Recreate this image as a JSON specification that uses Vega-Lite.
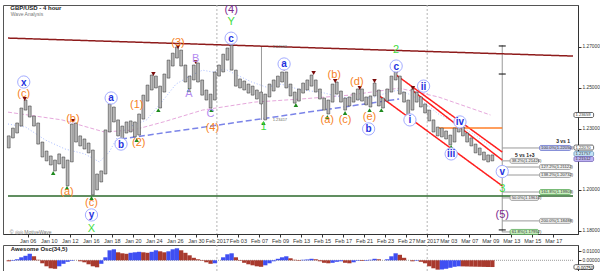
{
"$schema": "https://vega.github.io/schema/vega-lite/v6.json",
"autosize": {"type": "pad"},
"padding": {"left": 2, "top": 3, "right": 0, "bottom": 0},
"background": "white",
"config": {
  "view": {"stroke": "#555", "strokeWidth": 1},
  "font": "Liberation Sans",
  "axis": {"labelFont": "Liberation Sans", "labelFontSize": 5.5, "labelColor": "#333", "tickColor": "#333", "domainColor": "#333", "tickSize": 3, "grid": false}
},
"datasets": {
  "sep": [{"t": 18}, {"t": 38}],
  "ma": [
    {"s":"slow","t":-1.87,"p":1.2380},{"s":"slow","t":3.27,"p":1.2342},{"s":"slow","t":7.29,"p":1.2283},{"s":"slow","t":10.09,"p":1.2293},{"s":"slow","t":12.90,"p":1.2332},{"s":"slow","t":16.64,"p":1.2390},{"s":"slow","t":21.59,"p":1.2429},{"s":"slow","t":25.98,"p":1.2444},{"s":"slow","t":30.65,"p":1.2463},{"s":"slow","t":35.33,"p":1.2497},{"s":"slow","t":39.07,"p":1.2454},{"s":"slow","t":44.02,"p":1.2366},
    {"s":"fast","t":-1.87,"p":1.2322},{"s":"fast","t":-0.19,"p":1.2307},{"s":"fast","t":1.68,"p":1.2244},{"s":"fast","t":3.55,"p":1.2200},{"s":"fast","t":5.42,"p":1.2176},{"s":"fast","t":6.82,"p":1.2137},{"s":"fast","t":7.76,"p":1.2185},{"s":"fast","t":8.69,"p":1.2273},{"s":"fast","t":9.63,"p":1.2307},{"s":"fast","t":11.31,"p":1.2342},{"s":"fast","t":12.90,"p":1.2439},{"s":"fast","t":14.11,"p":1.2517},{"s":"fast","t":15.42,"p":1.2556},{"s":"fast","t":16.64,"p":1.2585},{"s":"fast","t":17.57,"p":1.2576},{"s":"fast","t":18.79,"p":1.2590},{"s":"fast","t":19.91,"p":1.2561},{"s":"fast","t":21.31,"p":1.2527},{"s":"fast","t":22.71,"p":1.2502},{"s":"fast","t":24.11,"p":1.2517},{"s":"fast","t":25.98,"p":1.2488},{"s":"fast","t":27.85,"p":1.2478},{"s":"fast","t":29.72,"p":1.2454},{"s":"fast","t":31.59,"p":1.2444},{"s":"fast","t":32.99,"p":1.2454},{"s":"fast","t":34.39,"p":1.2478},{"s":"fast","t":35.33,"p":1.2488},{"s":"fast","t":36.26,"p":1.2468},{"s":"fast","t":37.66,"p":1.2429},{"s":"fast","t":39.07,"p":1.2371},{"s":"fast","t":40.93,"p":1.2322},{"s":"fast","t":42.80,"p":1.2259},{"s":"fast","t":44.02,"p":1.2210}
  ],
  "lines": [
    {"id":"brown","g":"main","t":-1.87,"p":1.27415},{"id":"brown","g":"main","t":51.87,"p":1.26537},
    {"id":"green","g":"main","t":-1.87,"p":1.19708},{"id":"green","g":"main","t":51.87,"p":1.19708},
    {"id":"blue","g":"main","t":8.88,"p":1.22488},{"id":"blue","g":"main","t":35.33,"p":1.24439},
    {"id":"redA","g":"main","t":35.05,"p":1.2561},{"id":"redA","g":"main","t":45.14,"p":1.2185},
    {"id":"redB","g":"main","t":36.54,"p":1.2488},{"id":"redB","g":"main","t":45.14,"p":1.2146},
    {"id":"redC","g":"main","t":33.46,"p":1.2459},{"id":"redC","g":"main","t":45.14,"p":1.2020},
    {"id":"orange","g":"main","t":39.07,"p":1.23025},{"id":"orange","g":"main","t":45.14,"p":1.23025},
    {"id":"vgray","g":"fib","t":45.14,"p":1.2707},{"id":"vgray","g":"fib","t":45.14,"p":1.1794},
    {"id":"meas","g":"fib","t":22.24,"p":1.2698},{"id":"meas","g":"fib","t":22.24,"p":1.2342},
    {"id":"f1","g":"fib","t":45.14,"p":1.2205},{"id":"f1","g":"fib","t":48.69,"p":1.2205},
    {"id":"f2","g":"fib","t":45.14,"p":1.2142},{"id":"f2","g":"fib","t":45.89,"p":1.2142},
    {"id":"f3","g":"fib","t":45.14,"p":1.2112},{"id":"f3","g":"fib","t":48.69,"p":1.2112},
    {"id":"f4","g":"fib","t":45.14,"p":1.2073},{"id":"f4","g":"fib","t":48.69,"p":1.2073},
    {"id":"f5","g":"fib","t":45.14,"p":1.1990},{"id":"f5","g":"fib","t":48.69,"p":1.1990},
    {"id":"f6","g":"fib","t":45.14,"p":1.1961},{"id":"f6","g":"fib","t":45.89,"p":1.1961},
    {"id":"f7","g":"fib","t":45.14,"p":1.1849},{"id":"f7","g":"fib","t":48.69,"p":1.1849},
    {"id":"f8","g":"fib","t":45.14,"p":1.1795},{"id":"f8","g":"fib","t":45.89,"p":1.1795}
  ],
  "candles": [
    {"t":-1.8,"h":1.2264,"l":1.2205},{"t":-1.4,"h":1.2302,"l":1.2254},{"t":-1.0,"h":1.2327,"l":1.2278},{"t":-0.6,"h":1.2400,"l":1.2312},{"t":-0.2,"h":1.2439,"l":1.2390},{"t":0.2,"h":1.2410,"l":1.2356},{"t":0.6,"h":1.2361,"l":1.2312},{"t":1.0,"h":1.2327,"l":1.2224},{"t":1.4,"h":1.2234,"l":1.2161},{"t":1.8,"h":1.2190,"l":1.2142},
    {"t":2.2,"h":1.2166,"l":1.2122},{"t":2.6,"h":1.2146,"l":1.2093},{"t":3.0,"h":1.2176,"l":1.2127},{"t":3.4,"h":1.2161,"l":1.2107},{"t":3.8,"h":1.2146,"l":1.2020},{"t":4.2,"h":1.2322,"l":1.2137},{"t":4.6,"h":1.2327,"l":1.2234},{"t":5.0,"h":1.2264,"l":1.2215},{"t":5.4,"h":1.2249,"l":1.2200},{"t":5.8,"h":1.2229,"l":1.2181},
    {"t":6.2,"h":1.2195,"l":1.1976},{"t":6.6,"h":1.2078,"l":1.2000},{"t":7.0,"h":1.2093,"l":1.2039},{"t":7.4,"h":1.2293,"l":1.2078},{"t":7.8,"h":1.2420,"l":1.2283},{"t":8.2,"h":1.2405,"l":1.2332},{"t":8.6,"h":1.2342,"l":1.2264},{"t":9.0,"h":1.2312,"l":1.2249},{"t":9.4,"h":1.2332,"l":1.2278},{"t":9.8,"h":1.2337,"l":1.2283},
    {"t":10.2,"h":1.2332,"l":1.2259},{"t":10.6,"h":1.2371,"l":1.2268},{"t":11.0,"h":1.2463,"l":1.2346},{"t":11.4,"h":1.2512,"l":1.2434},{"t":11.8,"h":1.2561,"l":1.2488},{"t":12.2,"h":1.2556,"l":1.2498},{"t":12.6,"h":1.2507,"l":1.2400},{"t":13.0,"h":1.2566,"l":1.2478},{"t":13.4,"h":1.2634,"l":1.2546},{"t":13.8,"h":1.2668,"l":1.2605},
    {"t":14.2,"h":1.2698,"l":1.2644},{"t":14.6,"h":1.2683,"l":1.2605},{"t":15.0,"h":1.2610,"l":1.2527},{"t":15.4,"h":1.2556,"l":1.2493},{"t":15.8,"h":1.2610,"l":1.2537},{"t":16.2,"h":1.2620,"l":1.2527},{"t":16.6,"h":1.2537,"l":1.2463},{"t":17.0,"h":1.2488,"l":1.2439},{"t":17.4,"h":1.2468,"l":1.2400},{"t":17.8,"h":1.2576,"l":1.2439},
    {"t":18.2,"h":1.2610,"l":1.2556},{"t":18.6,"h":1.2663,"l":1.2576},{"t":19.0,"h":1.2693,"l":1.2634},{"t":19.4,"h":1.2707,"l":1.2585},{"t":19.8,"h":1.2585,"l":1.2507},{"t":20.2,"h":1.2542,"l":1.2498},{"t":20.6,"h":1.2532,"l":1.2488},{"t":21.0,"h":1.2517,"l":1.2473},{"t":21.4,"h":1.2507,"l":1.2463},{"t":21.8,"h":1.2488,"l":1.2444},
    {"t":22.2,"h":1.2478,"l":1.2420},{"t":22.6,"h":1.2468,"l":1.2342},{"t":23.0,"h":1.2517,"l":1.2454},{"t":23.4,"h":1.2537,"l":1.2483},{"t":23.8,"h":1.2556,"l":1.2502},{"t":24.2,"h":1.2576,"l":1.2527},{"t":24.6,"h":1.2576,"l":1.2498},{"t":25.0,"h":1.2517,"l":1.2459},{"t":25.4,"h":1.2478,"l":1.2424},{"t":25.8,"h":1.2493,"l":1.2434},
    {"t":26.2,"h":1.2522,"l":1.2473},{"t":26.6,"h":1.2537,"l":1.2488},{"t":27.0,"h":1.2561,"l":1.2507},{"t":27.4,"h":1.2537,"l":1.2478},{"t":27.8,"h":1.2493,"l":1.2444},{"t":28.2,"h":1.2449,"l":1.2390},{"t":28.6,"h":1.2439,"l":1.2371},{"t":29.0,"h":1.2517,"l":1.2429},{"t":29.4,"h":1.2527,"l":1.2468},{"t":29.8,"h":1.2483,"l":1.2429},
    {"t":30.2,"h":1.2449,"l":1.2390},{"t":30.6,"h":1.2454,"l":1.2410},{"t":31.0,"h":1.2473,"l":1.2429},{"t":31.4,"h":1.2493,"l":1.2439},{"t":31.8,"h":1.2493,"l":1.2434},{"t":32.2,"h":1.2454,"l":1.2415},{"t":32.6,"h":1.2459,"l":1.2405},{"t":33.0,"h":1.2522,"l":1.2459},{"t":33.4,"h":1.2488,"l":1.2410},{"t":33.8,"h":1.2449,"l":1.2400},
    {"t":34.2,"h":1.2493,"l":1.2434},{"t":34.6,"h":1.2556,"l":1.2478},{"t":35.0,"h":1.2576,"l":1.2537},{"t":35.4,"h":1.2556,"l":1.2468},{"t":35.8,"h":1.2478,"l":1.2429},{"t":36.2,"h":1.2439,"l":1.2366},{"t":36.6,"h":1.2493,"l":1.2390},{"t":37.0,"h":1.2478,"l":1.2429},{"t":37.4,"h":1.2454,"l":1.2405},{"t":37.8,"h":1.2420,"l":1.2376},
    {"t":38.2,"h":1.2390,"l":1.2337},{"t":38.6,"h":1.2342,"l":1.2283},{"t":39.0,"h":1.2307,"l":1.2264},{"t":39.4,"h":1.2302,"l":1.2259},{"t":39.8,"h":1.2288,"l":1.2249},{"t":40.2,"h":1.2268,"l":1.2220},{"t":40.6,"h":1.2302,"l":1.2234},{"t":41.0,"h":1.2327,"l":1.2283},{"t":41.4,"h":1.2307,"l":1.2264},{"t":41.8,"h":1.2278,"l":1.2234},
    {"t":42.2,"h":1.2254,"l":1.2215},{"t":42.6,"h":1.2224,"l":1.2181},{"t":43.0,"h":1.2205,"l":1.2171},{"t":43.4,"h":1.2185,"l":1.2146},{"t":43.8,"h":1.2171,"l":1.2137},{"t":44.2,"h":1.2171,"l":1.2142}
  ],
  "marks": [
    {"kind":"peak","t":-0.28,"p":1.2444},{"kind":"peak","t":4.30,"p":1.2337},{"kind":"peak","t":7.94,"p":1.2434},{"kind":"peak","t":11.96,"p":1.2566},{"kind":"peak","t":14.30,"p":1.2698},{"kind":"peak","t":15.98,"p":1.2624},{"kind":"peak","t":19.35,"p":1.2717},{"kind":"peak","t":24.39,"p":1.2590},{"kind":"peak","t":27.20,"p":1.2571},{"kind":"peak","t":29.25,"p":1.2532},{"kind":"peak","t":31.59,"p":1.2498},{"kind":"peak","t":32.99,"p":1.2532},{"kind":"peak","t":35.14,"p":1.2580},{"kind":"peak","t":36.64,"p":1.2498},
    {"kind":"trough","t":2.43,"p":1.2083},{"kind":"trough","t":3.74,"p":1.2010},{"kind":"trough","t":6.07,"p":1.1961},{"kind":"trough","t":8.88,"p":1.2239},{"kind":"trough","t":10.37,"p":1.2244},{"kind":"trough","t":12.43,"p":1.2390},{"kind":"trough","t":15.33,"p":1.2488},{"kind":"trough","t":17.48,"p":1.2390},{"kind":"trough","t":22.43,"p":1.2327},{"kind":"trough","t":25.51,"p":1.2415},{"kind":"trough","t":28.50,"p":1.2356},{"kind":"trough","t":30.19,"p":1.2376},{"kind":"trough","t":32.52,"p":1.2390},{"kind":"trough","t":33.64,"p":1.2390},{"kind":"trough","t":36.36,"p":1.2356},{"kind":"trough","t":40.28,"p":1.2210}
  ],
  "tees": [{"t":45.14,"p":1.2703},{"t":45.14,"p":1.2566},{"t":45.14,"p":1.1805}],
  "circles": [
    {"txt":"x","t":-0.37,"p":1.2527},{"txt":"a","t":7.94,"p":1.2449},{"txt":"b","t":8.88,"p":1.2224},{"txt":"y","t":6.07,"p":1.1878},{"txt":"c","t":19.35,"p":1.2741},{"txt":"a","t":24.39,"p":1.2615},{"txt":"b","t":32.43,"p":1.2298},{"txt":"c","t":35.05,"p":1.2605},{"txt":"i","t":36.36,"p":1.2342},{"txt":"ii","t":37.66,"p":1.2507},{"txt":"iii","t":40.28,"p":1.2176},{"txt":"iv","t":41.12,"p":1.2332},{"txt":"v","t":45.14,"p":1.2090}
  ],
  "labels": [
    {"kind":"minor","txt":"(c)","t":-0.37,"p":1.2468},{"kind":"minor","txt":"(b)","t":4.30,"p":1.2346},{"kind":"minor","txt":"(a)","t":3.74,"p":1.1990},{"kind":"minor","txt":"(c)","t":6.07,"p":1.1937},{"kind":"minor","txt":"(1)","t":10.37,"p":1.2415},{"kind":"minor","txt":"(2)","t":10.56,"p":1.2229},{"kind":"minor","txt":"(3)","t":14.30,"p":1.2717},{"kind":"minor","txt":"(4)","t":17.57,"p":1.2302},{"kind":"minor","txt":"(a)","t":28.50,"p":1.2342},{"kind":"minor","txt":"(b)","t":29.16,"p":1.2561},{"kind":"minor","txt":"(c)","t":30.19,"p":1.2342},{"kind":"minor","txt":"(d)","t":31.31,"p":1.2527},{"kind":"minor","txt":"(e)","t":32.52,"p":1.2356},
    {"kind":"abc","txt":"A","t":15.33,"p":1.2468},{"kind":"abc","txt":"B","t":15.98,"p":1.2639},{"kind":"abc","txt":"C","t":17.38,"p":1.2373},
    {"kind":"primary","txt":"(4)","t":19.35,"p":1.2878},{"kind":"primary","txt":"(5)","t":45.14,"p":1.1878},
    {"kind":"inter","txt":"Y","t":19.35,"p":1.2820},{"kind":"inter","txt":"X","t":6.07,"p":1.1810},{"kind":"inter","txt":"1","t":22.43,"p":1.2307},{"kind":"inter","txt":"2","t":35.05,"p":1.2683},{"kind":"inter","txt":"3","t":45.14,"p":1.2005}
  ],
  "notes": [
    {"kind":"title","txt":"GBP/USD - 4 hour","t":-1.65,"p":1.2890},
    {"kind":"sub","txt":"Wave Analysis","t":-1.6,"p":1.2859},
    {"kind":"sub","txt":"© ◎◎ MotiveWave","t":-1.7,"p":1.1797},
    {"kind":"fibname","txt":"3 vs 1","t":50.93,"p":1.2239},
    {"kind":"fibname","txt":"5 vs 1+3","t":47.29,"p":1.2171},
    {"kind":"meas","txt":"1.27062","t":23.3,"p":1.2698},
    {"kind":"meas","txt":"1.23417","t":23.3,"p":1.2342}
  ],
  "boxes": [
    {"k":"blue","txt":"100.0%(1.22050)","t1":48.69,"t2":51.68,"y1":1.22172,"y2":1.21928},
    {"k":"gray","txt":"38.2%(1.21426)","t1":45.89,"t2":48.60,"y1":1.21542,"y2":1.21298},
    {"k":"gray","txt":"127.2%(1.21122)","t1":48.69,"t2":51.68,"y1":1.21242,"y2":1.20998},
    {"k":"gray","txt":"138.2%(1.20732)","t1":48.69,"t2":51.68,"y1":1.20852,"y2":1.20608},
    {"k":"green","txt":"161.8%(1.19903)","t1":48.69,"t2":51.68,"y1":1.20022,"y2":1.19778},
    {"k":"gray","txt":"50.0%(1.19610)","t1":45.89,"t2":48.60,"y1":1.19732,"y2":1.19488},
    {"k":"gray","txt":"200.0%(1.18488)","t1":48.69,"t2":51.68,"y1":1.18612,"y2":1.18368},
    {"k":"green","txt":"61.8%(1.17952)","t1":45.89,"t2":48.60,"y1":1.18072,"y2":1.17828},
    {"k":"axis","txt":"1.23659","t1":51.96,"t2":53.83,"y1":1.23782,"y2":1.23538},
    {"k":"axis","txt":"1.22070","t1":51.96,"t2":53.83,"y1":1.22192,"y2":1.21948},
    {"k":"axisblue","txt":"1.21757","t1":51.96,"t2":53.83,"y1":1.21882,"y2":1.21638},
    {"k":"axispurple","txt":"1.21512","t1":51.96,"t2":53.83,"y1":1.21632,"y2":1.21388}
  ],
  "zero": [{"t":-1.87,"v":0},{"t":51.87,"v":0}],
  "oscbox": [{"txt":"-0.00750","t1":51.96,"t2":53.83,"y1":-0.0049,"y2":-0.0101}],
  "osctitle": [{"txt":"Awesome Osc(34,5)","t":-1.6,"v":0.0125}],
  "osc": [
    {"t":-1.8,"v":-0.00111,"dir":"dn"},{"t":-1.4,"v":-0.00056,"dir":"up"},{"t":-1.0,"v":0.00111,"dir":"up"},{"t":-0.6,"v":0.00333,"dir":"up"},{"t":-0.2,"v":0.00500,"dir":"up"},{"t":0.2,"v":0.00722,"dir":"up"},{"t":0.6,"v":0.00444,"dir":"dn"},{"t":1.0,"v":0.00056,"dir":"dn"},{"t":1.4,"v":-0.00333,"dir":"dn"},{"t":1.8,"v":-0.00667,"dir":"dn"},
    {"t":2.2,"v":-0.00889,"dir":"dn"},{"t":2.6,"v":-0.00944,"dir":"dn"},{"t":3.0,"v":-0.00667,"dir":"up"},{"t":3.4,"v":-0.00389,"dir":"up"},{"t":3.8,"v":-0.00167,"dir":"up"},{"t":4.2,"v":-0.00056,"dir":"up"},{"t":4.6,"v":0.0,"dir":"up"},{"t":5.0,"v":-0.00111,"dir":"dn"},{"t":5.4,"v":-0.00222,"dir":"dn"},{"t":5.8,"v":-0.00444,"dir":"dn"},
    {"t":6.2,"v":-0.00667,"dir":"dn"},{"t":6.6,"v":-0.00778,"dir":"dn"},{"t":7.0,"v":-0.00389,"dir":"up"},{"t":7.4,"v":0.00333,"dir":"up"},{"t":7.8,"v":0.01111,"dir":"up"},{"t":8.2,"v":0.01222,"dir":"up"},{"t":8.6,"v":0.00889,"dir":"dn"},{"t":9.0,"v":0.00778,"dir":"dn"},{"t":9.4,"v":0.00722,"dir":"dn"},{"t":9.8,"v":0.00833,"dir":"up"},
    {"t":10.2,"v":0.00889,"dir":"up"},{"t":10.6,"v":0.00944,"dir":"up"},{"t":11.0,"v":0.00889,"dir":"dn"},{"t":11.4,"v":0.00833,"dir":"dn"},{"t":11.8,"v":0.00944,"dir":"up"},{"t":12.2,"v":0.01111,"dir":"up"},{"t":12.6,"v":0.01000,"dir":"dn"},{"t":13.0,"v":0.00889,"dir":"dn"},{"t":13.4,"v":0.01000,"dir":"up"},{"t":13.8,"v":0.01222,"dir":"up"},
    {"t":14.2,"v":0.01333,"dir":"up"},{"t":14.6,"v":0.01111,"dir":"dn"},{"t":15.0,"v":0.00833,"dir":"dn"},{"t":15.4,"v":0.00556,"dir":"dn"},{"t":15.8,"v":0.00278,"dir":"dn"},{"t":16.2,"v":0.00111,"dir":"dn"},{"t":16.6,"v":-0.00056,"dir":"dn"},{"t":17.0,"v":-0.00222,"dir":"dn"},{"t":17.4,"v":-0.00389,"dir":"dn"},{"t":17.8,"v":-0.00333,"dir":"up"},
    {"t":18.2,"v":0.0,"dir":"up"},{"t":18.6,"v":0.00333,"dir":"up"},{"t":19.0,"v":0.00667,"dir":"up"},{"t":19.4,"v":0.00778,"dir":"up"},{"t":19.8,"v":0.00333,"dir":"dn"},{"t":20.2,"v":-0.00056,"dir":"dn"},{"t":20.6,"v":-0.00278,"dir":"dn"},{"t":21.0,"v":-0.00444,"dir":"dn"},{"t":21.4,"v":-0.00556,"dir":"dn"},{"t":21.8,"v":-0.00667,"dir":"dn"},
    {"t":22.2,"v":-0.00722,"dir":"dn"},{"t":22.6,"v":-0.00556,"dir":"up"},{"t":23.0,"v":-0.00333,"dir":"up"},{"t":23.4,"v":-0.00111,"dir":"up"},{"t":23.8,"v":0.00167,"dir":"up"},{"t":24.2,"v":0.00333,"dir":"up"},{"t":24.6,"v":0.00444,"dir":"up"},{"t":25.0,"v":0.00222,"dir":"dn"},{"t":25.4,"v":0.00056,"dir":"dn"},{"t":25.8,"v":-0.00056,"dir":"dn"},
    {"t":26.2,"v":0.00056,"dir":"up"},{"t":26.6,"v":0.00089,"dir":"up"},{"t":27.0,"v":0.00167,"dir":"up"},{"t":27.4,"v":0.00111,"dir":"dn"},{"t":27.8,"v":-0.00111,"dir":"dn"},{"t":28.2,"v":-0.00278,"dir":"dn"},{"t":28.6,"v":-0.00333,"dir":"dn"},{"t":29.0,"v":-0.00278,"dir":"up"},{"t":29.4,"v":-0.00167,"dir":"up"},{"t":29.8,"v":-0.00111,"dir":"up"},
    {"t":30.2,"v":-0.00278,"dir":"dn"},{"t":30.6,"v":-0.00333,"dir":"dn"},{"t":31.0,"v":-0.00222,"dir":"up"},{"t":31.4,"v":-0.00056,"dir":"up"},{"t":31.8,"v":-0.00078,"dir":"dn"},{"t":32.2,"v":-0.00056,"dir":"up"},{"t":32.6,"v":0.00056,"dir":"up"},{"t":33.0,"v":0.00167,"dir":"up"},{"t":33.4,"v":0.00111,"dir":"dn"},{"t":33.8,"v":0.0,"dir":"dn"},
    {"t":34.2,"v":0.00111,"dir":"up"},{"t":34.6,"v":0.00444,"dir":"up"},{"t":35.0,"v":0.00778,"dir":"up"},{"t":35.4,"v":0.00611,"dir":"dn"},{"t":35.8,"v":0.00278,"dir":"dn"},{"t":36.2,"v":0.0,"dir":"dn"},{"t":36.6,"v":-0.00111,"dir":"dn"},{"t":37.0,"v":-0.00056,"dir":"up"},{"t":37.4,"v":-0.00167,"dir":"dn"},{"t":37.8,"v":-0.00333,"dir":"dn"},
    {"t":38.2,"v":-0.00667,"dir":"dn"},{"t":38.6,"v":-0.00889,"dir":"dn"},{"t":39.0,"v":-0.01040,"dir":"dn"},{"t":39.4,"v":-0.01020,"dir":"up"},{"t":39.8,"v":-0.00944,"dir":"up"},{"t":40.2,"v":-0.00833,"dir":"up"},{"t":40.6,"v":-0.00722,"dir":"up"},{"t":41.0,"v":-0.00667,"dir":"up"},{"t":41.4,"v":-0.00678,"dir":"dn"},{"t":41.8,"v":-0.00689,"dir":"dn"},
    {"t":42.2,"v":-0.00700,"dir":"dn"},{"t":42.6,"v":-0.00711,"dir":"dn"},{"t":43.0,"v":-0.00722,"dir":"dn"},{"t":43.4,"v":-0.00733,"dir":"dn"},{"t":43.8,"v":-0.00744,"dir":"dn"},{"t":44.2,"v":-0.00750,"dir":"dn"}
  ]
},
"spacing": 11,
"bounds": "flush",
"vconcat": [
  {
    "width": 575,
    "height": 229,
    "encoding": {
      "x": {"field": "t", "type": "quantitative", "title": null,
        "scale": {"domain": [-1.87, 51.87], "nice": false, "zero": false},
        "axis": {"values": [0,2,4,6,8,10,12,14,16,18,20,22,24,26,28,30,32,34,36,38,40,42,44,46,48,50],
          "labelExpr": "['Jan 06','Jan 10','Jan 12','Jan 16','Jan 18','Jan 20','Jan 24','Jan 26','Jan 30','Feb 2017','Feb 03','Feb 07','Feb 09','Feb 13','Feb 15','Feb 17','Feb 21','Feb 23','Feb 27','Mar 2017','Mar 03','Mar 07','Mar 09','Mar 13','Mar 15','Mar 17'][round(datum.value/2)]",
          "labelFontSize": 5.5, "tickSize": 3, "labelPadding": 1, "labelOverlap": false, "labelFlush": false}}
    },
    "layer": [
      {"data": {"name": "sep"}, "mark": {"type": "rule", "color": "#b4b4b4", "strokeDash": [2, 2], "strokeWidth": 1}, "encoding": {}},
      {"data": {"name": "ma"}, "mark": {"type": "line", "strokeWidth": 1},
        "encoding": {
          "y": {"field": "p", "type": "quantitative", "title": null,
            "scale": {"domain": [1.1785, 1.2903], "nice": false, "zero": false},
            "axis": {"orient": "right", "values": [1.18,1.19,1.20,1.21,1.23,1.24,1.25,1.26,1.27,1.28], "format": ".5f", "labelFontSize": 4.8, "tickSize": 3, "labelPadding": 1, "labelOverlap": false}},
          "color": {"field": "s", "type": "nominal", "scale": {"domain": ["slow","fast"], "range": ["#e6a8dc","#a8bcff"]}, "legend": null},
          "strokeDash": {"field": "s", "type": "nominal", "scale": {"domain": ["slow","fast"], "range": [[4,2],[1,2]]}, "legend": null}
        }},
      {"data": {"name": "lines"}, "transform": [{"filter": "datum.g == 'fib'"}], "mark": {"type": "line", "strokeWidth": 1, "color": "#9a9a9a"},
        "encoding": {"y": {"field": "p", "type": "quantitative", "title": null}, "detail": {"field": "id"}}},
      {"data": {"name": "lines"}, "transform": [{"filter": "datum.g == 'main'"}], "mark": {"type": "line", "strokeWidth": 1.5},
        "encoding": {
          "y": {"field": "p", "type": "quantitative", "title": null},
          "detail": {"field": "id"},
          "color": {"field": "id", "type": "nominal", "scale": {"domain": ["brown","green","blue","redA","redB","redC","orange"], "range": ["#8e1b1b","#2c6a2c","#7b84e8","#ff1f1f","#ff1f1f","#ff1f1f","#ff7f27"]}, "legend": null},
          "strokeDash": {"field": "id", "type": "nominal", "scale": {"domain": ["brown","green","blue","redA","redB","redC","orange"], "range": [[1,0],[1,0],[6,3],[1,0],[1,0],[1,0],[1,0]]}, "legend": null}
        }},
      {"data": {"name": "candles"}, "mark": {"type": "bar", "size": 2.8, "fill": "#b8b8b8", "stroke": "#2a2a2a", "strokeWidth": 0.5},
        "encoding": {"y": {"field": "h", "type": "quantitative", "title": null}, "y2": {"field": "l"}}},
      {"data": {"name": "tees"}, "mark": {"type": "tick", "orient": "horizontal", "size": 7, "thickness": 1.5, "color": "#111"},
        "encoding": {"y": {"field": "p", "type": "quantitative", "title": null}}},
      {"data": {"name": "marks"}, "mark": {"type": "point", "filled": true, "size": 20, "opacity": 1},
        "encoding": {
          "y": {"field": "p", "type": "quantitative", "title": null},
          "shape": {"field": "kind", "type": "nominal", "scale": {"domain": ["peak","trough"], "range": ["triangle-down","triangle-up"]}, "legend": null},
          "color": {"field": "kind", "type": "nominal", "scale": {"domain": ["peak","trough"], "range": ["#7a0a0a","#1e8a1e"]}, "legend": null}
        }},
      {"data": {"name": "circles"}, "mark": {"type": "point", "shape": "circle", "filled": false, "fill": "white", "fillOpacity": 1, "stroke": "#a3acff", "strokeWidth": 1, "size": 150, "opacity": 1},
        "encoding": {"y": {"field": "p", "type": "quantitative", "title": null}}},
      {"data": {"name": "circles"}, "mark": {"type": "text", "color": "#1f33e0", "fontWeight": "bold", "fontSize": 10, "baseline": "middle", "align": "center", "dy": 0.5},
        "encoding": {"y": {"field": "p", "type": "quantitative", "title": null}, "text": {"field": "txt"}}},
      {"data": {"name": "labels"}, "mark": {"type": "text", "baseline": "middle", "align": "center"},
        "encoding": {
          "y": {"field": "p", "type": "quantitative", "title": null},
          "text": {"field": "txt"},
          "color": {"field": "kind", "type": "nominal", "scale": {"domain": ["minor","abc","primary","inter"], "range": ["#f6821f","#b48cf0","#7d2a8e","#3fdc3f"]}, "legend": null},
          "size": {"field": "kind", "type": "nominal", "scale": {"domain": ["minor","abc","primary","inter"], "range": [11, 11, 14, 13]}, "legend": null}
        }},
      {"data": {"name": "notes"}, "transform": [{"filter": "datum.kind == 'title'"}], "mark": {"type": "text", "align": "left", "baseline": "middle", "fontWeight": "bold", "fontSize": 6, "color": "#222"},
        "encoding": {"y": {"field": "p", "type": "quantitative", "title": null}, "text": {"field": "txt"}}},
      {"data": {"name": "notes"}, "transform": [{"filter": "datum.kind == 'sub'"}], "mark": {"type": "text", "align": "left", "baseline": "middle", "fontSize": 5, "color": "#777"},
        "encoding": {"y": {"field": "p", "type": "quantitative", "title": null}, "text": {"field": "txt"}}},
      {"data": {"name": "notes"}, "transform": [{"filter": "datum.kind == 'fibname'"}], "mark": {"type": "text", "align": "center", "baseline": "middle", "fontWeight": "bold", "fontSize": 5, "color": "#222"},
        "encoding": {"y": {"field": "p", "type": "quantitative", "title": null}, "text": {"field": "txt"}}},
      {"data": {"name": "notes"}, "transform": [{"filter": "datum.kind == 'meas'"}], "mark": {"type": "text", "align": "left", "baseline": "middle", "fontSize": 4, "color": "#666"},
        "encoding": {"y": {"field": "p", "type": "quantitative", "title": null}, "text": {"field": "txt"}}},
      {"data": {"name": "boxes"}, "mark": {"type": "rect", "strokeWidth": 0.7, "cornerRadius": 1.5},
        "encoding": {
          "x": {"field": "t1", "type": "quantitative", "title": null}, "x2": {"field": "t2"},
          "y": {"field": "y1", "type": "quantitative", "title": null}, "y2": {"field": "y2"},
          "fill": {"field": "k", "type": "nominal", "scale": {"domain": ["gray","blue","green","axis","axisblue","axispurple"], "range": ["#ededed","#c9cef0","#c8efbf","#ffffff","#c4e2f6","#bfb2f2"]}, "legend": null},
          "stroke": {"field": "k", "type": "nominal", "scale": {"domain": ["gray","blue","green","axis","axisblue","axispurple"], "range": ["#8a8a8a","#5b67c8","#4aa04a","#222222","#5a8ab0","#6a5ab0"]}, "legend": null}
        }},
      {"data": {"name": "boxes"}, "mark": {"type": "text", "align": "left", "baseline": "top", "fontSize": 4.2, "color": "#333", "dx": 1.5, "dy": 0.5},
        "encoding": {
          "x": {"field": "t1", "type": "quantitative", "title": null},
          "y": {"field": "y1", "type": "quantitative", "title": null},
          "text": {"field": "txt"}
        }}
    ],
    "resolve": {"scale": {"color": "independent", "size": "independent", "shape": "independent", "strokeDash": "independent", "fill": "independent", "stroke": "independent"}}
  },
  {
    "width": 575,
    "height": 26,
    "layer": [
      {"data": {"name": "sep"}, "mark": {"type": "rule", "color": "#b4b4b4", "strokeDash": [2, 2], "strokeWidth": 1},
        "encoding": {"x": {"field": "t", "type": "quantitative", "title": null, "scale": {"domain": [-1.87, 51.87], "nice": false, "zero": false}, "axis": null}}},
      {"data": {"name": "zero"}, "mark": {"type": "line", "color": "#9a9a9a", "strokeDash": [1, 1], "strokeWidth": 1},
        "encoding": {
          "x": {"field": "t", "type": "quantitative", "title": null},
          "y": {"field": "v", "type": "quantitative", "title": null,
            "scale": {"domain": [-0.0119, 0.017], "nice": false, "zero": false},
            "axis": {"orient": "right", "values": [0, 0.01], "format": ".5f", "labelFontSize": 4.8, "tickSize": 3, "labelPadding": 1, "labelOverlap": false}}
        }},
      {"data": {"name": "osc"}, "mark": {"type": "bar", "size": 4.3},
        "encoding": {
          "x": {"field": "t", "type": "quantitative", "title": null},
          "y": {"field": "v", "type": "quantitative", "title": null},
          "y2": {"datum": 0},
          "color": {"field": "dir", "type": "nominal", "scale": {"domain": ["up","dn"], "range": ["#3f4ff2","#a83a2e"]}, "legend": null}
        }},
      {"data": {"name": "osctitle"}, "mark": {"type": "text", "align": "left", "baseline": "middle", "fontWeight": "bold", "fontSize": 6, "color": "#222"},
        "encoding": {
          "x": {"field": "t", "type": "quantitative", "title": null},
          "y": {"field": "v", "type": "quantitative", "title": null},
          "text": {"field": "txt"}
        }},
      {"data": {"name": "oscbox"}, "mark": {"type": "rect", "fill": "white", "stroke": "#222", "strokeWidth": 0.7, "cornerRadius": 1.5},
        "encoding": {
          "x": {"field": "t1", "type": "quantitative", "title": null}, "x2": {"field": "t2"},
          "y": {"field": "y1", "type": "quantitative", "title": null}, "y2": {"field": "y2"}
        }},
      {"data": {"name": "oscbox"}, "mark": {"type": "text", "align": "left", "baseline": "top", "fontSize": 4.5, "color": "#222", "dx": 1.5, "dy": 0.8},
        "encoding": {
          "x": {"field": "t1", "type": "quantitative", "title": null},
          "y": {"field": "y1", "type": "quantitative", "title": null},
          "text": {"field": "txt"}
        }}
    ]
  }
]
}
